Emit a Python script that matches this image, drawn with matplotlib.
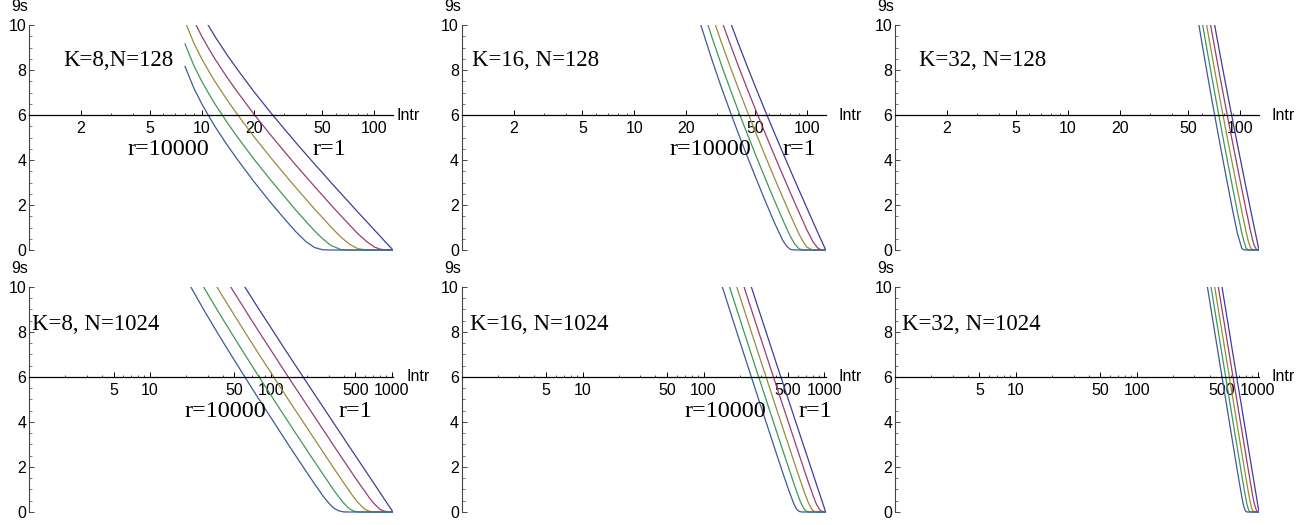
import matplotlib
matplotlib.use("Agg")
import matplotlib.pyplot as plt
import matplotlib.ticker as ticker
from matplotlib.transforms import blended_transform_factory

plt.rcParams['font.family'] = ['Liberation Sans', 'DejaVu Sans']

# curve colours for r = 1, 10, 100, 1000, 10000
colors = ['#3f3d99', '#993d71', '#998b3d', '#3d9956', '#3d5a99']

# ---- K=8, N=128 ----
intr_8_128 = [8, 9, 10, 11, 12, 14, 16, 20, 25, 30, 35, 40, 45, 50, 56, 64, 72, 80, 90, 100, 108, 115, 120, 128]
nines_8_128 = [
    [12.16, 11.20, 10.50, 9.94, 9.46, 8.68, 8.05, 7.05, 6.12, 5.39, 4.78, 4.27, 3.82, 3.43, 3.00, 2.51, 2.08, 1.69, 1.27, 0.885, 0.61, 0.38, 0.23, 0],
    [11.16, 10.20, 9.50, 8.94, 8.46, 7.68, 7.05, 6.05, 5.12, 4.39, 3.78, 3.27, 2.82, 2.43, 2.00, 1.52, 1.10, 0.73, 0.38, 0.13, 0.038, 0.007, 0.001, 0],
    [10.16, 9.20, 8.50, 7.94, 7.46, 6.68, 6.05, 5.05, 4.12, 3.39, 2.78, 2.27, 1.82, 1.44, 1.02, 0.57, 0.25, 0.06, 0.002, 0, 0, 0, 0, 0],
    [9.16, 8.20, 7.50, 6.94, 6.46, 5.68, 5.05, 4.05, 3.12, 2.39, 1.78, 1.28, 0.85, 0.51, 0.20, 0.02, 0, 0, 0, 0, 0, 0, 0, 0],
    [8.16, 7.20, 6.50, 5.94, 5.46, 4.68, 4.05, 3.05, 2.12, 1.40, 0.82, 0.38, 0.11, 0.01, 0, 0, 0, 0, 0, 0, 0, 0, 0, 0],
]

# ---- K=16, N=128 ----
intr_16_128 = [24, 28, 32, 36, 40, 45, 50, 56, 64, 72, 76, 80, 85, 90, 95, 100, 108, 115, 120, 124, 128]
nines_16_128 = [
    [14.10, 12.49, 11.19, 10.11, 9.17, 8.16, 7.28, 6.35, 5.28, 4.36, 3.94, 3.54, 3.07, 2.64, 2.23, 1.84, 1.26, 0.79, 0.48, 0.24, 0],
    [13.10, 11.49, 10.19, 9.11, 8.17, 7.16, 6.28, 5.35, 4.28, 3.36, 2.94, 2.54, 2.08, 1.65, 1.25, 0.87, 0.37, 0.095, 0.013, 0.001, 0],
    [12.10, 10.49, 9.19, 8.11, 7.17, 6.16, 5.28, 4.35, 3.28, 2.36, 1.95, 1.55, 1.10, 0.69, 0.36, 0.115, 0.002, 0, 0, 0, 0],
    [11.10, 9.49, 8.19, 7.11, 6.17, 5.16, 4.28, 3.35, 2.28, 1.37, 0.97, 0.60, 0.25, 0.045, 0.005, 0, 0, 0, 0, 0, 0],
    [10.10, 8.49, 7.19, 6.11, 5.17, 4.16, 3.28, 2.35, 1.29, 0.45, 0.17, 0.026, 0.001, 0, 0, 0, 0, 0, 0, 0, 0],
]

# ---- K=32, N=128 ----
intr_32_128 = [56, 60, 64, 68, 72, 76, 80, 85, 90, 96, 102, 105, 108, 111, 114, 117, 120, 124, 128]
nines_32_128 = [
    [14.53, 13.15, 11.91, 10.77, 9.72, 8.74, 7.83, 6.77, 5.79, 4.70, 3.69, 3.21, 2.74, 2.30, 1.86, 1.44, 1.03, 0.51, 0],
    [13.53, 12.15, 10.91, 9.77, 8.72, 7.74, 6.83, 5.77, 4.79, 3.70, 2.69, 2.21, 1.75, 1.32, 0.89, 0.52, 0.21, 0.02, 0],
    [12.53, 11.15, 9.91, 8.77, 7.72, 6.74, 5.83, 4.77, 3.79, 2.70, 1.69, 1.23, 0.78, 0.40, 0.125, 0.015, 0, 0, 0],
    [11.53, 10.15, 8.91, 7.77, 6.72, 5.74, 4.83, 3.77, 2.79, 1.70, 0.73, 0.36, 0.075, 0.004, 0, 0, 0, 0, 0],
    [10.53, 9.15, 7.91, 6.77, 5.72, 4.74, 3.83, 2.77, 1.79, 0.74, 0.06, 0.004, 0, 0, 0, 0, 0, 0, 0],
]

# ---- K=8, N=1024 ----
intr_8_1024 = [20, 24, 28, 34, 40, 50, 60, 70, 85, 100, 120, 150, 180, 220, 270, 300, 330, 365, 400, 440, 480, 520, 560, 600, 650, 700, 750, 800, 850, 950, 1024]
nines_8_1024 = [
    [14.37, 13.60, 12.97, 12.21, 11.58, 10.74, 10.06, 9.49, 8.78, 8.20, 7.54, 6.74, 6.10, 5.39, 4.67, 4.30, 3.96, 3.61, 3.29, 2.95, 2.65, 2.37, 2.11, 1.87, 1.59, 1.33, 1.09, 0.86, 0.65, 0.26, 0],
    [13.37, 12.60, 11.97, 11.21, 10.58, 9.74, 9.06, 8.49, 7.78, 7.20, 6.54, 5.74, 5.10, 4.39, 3.67, 3.30, 2.96, 2.61, 2.29, 1.96, 1.66, 1.39, 1.13, 0.92, 0.645, 0.42, 0.26, 0.12, 0.048, 0.002, 0],
    [12.37, 11.60, 10.97, 10.21, 9.58, 8.74, 8.06, 7.49, 6.78, 6.20, 5.54, 4.74, 4.10, 3.39, 2.67, 2.30, 1.96, 1.62, 1.30, 0.98, 0.69, 0.45, 0.27, 0.12, 0.035, 0.005, 0, 0, 0, 0, 0],
    [11.37, 10.60, 9.97, 9.21, 8.58, 7.74, 7.06, 6.49, 5.78, 5.20, 4.54, 3.74, 3.10, 2.39, 1.68, 1.32, 0.98, 0.67, 0.40, 0.17, 0.048, 0.006, 0, 0, 0, 0, 0, 0, 0, 0, 0],
    [10.37, 9.60, 8.97, 8.21, 7.58, 6.74, 6.06, 5.49, 4.78, 4.20, 3.54, 2.74, 2.10, 1.40, 0.71, 0.41, 0.18, 0.05, 0.003, 0, 0, 0, 0, 0, 0, 0, 0, 0, 0, 0, 0],
]

# ---- K=16, N=1024 ----
intr_16_1024 = [140, 160, 180, 200, 225, 250, 280, 320, 360, 400, 450, 500, 530, 560, 590, 620, 650, 680, 710, 740, 770, 800, 830, 860, 920, 970, 1024]
nines_16_1024 = [
    [14.16, 13.19, 12.33, 11.57, 10.72, 9.96, 9.15, 8.20, 7.36, 6.61, 5.78, 5.04, 4.63, 4.24, 3.87, 3.52, 3.19, 2.87, 2.57, 2.28, 2.00, 1.73, 1.47, 1.22, 0.75, 0.38, 0],
    [13.16, 12.19, 11.33, 10.57, 9.72, 8.96, 8.15, 7.20, 6.36, 5.61, 4.78, 4.04, 3.63, 3.24, 2.87, 2.52, 2.19, 1.87, 1.58, 1.29, 1.03, 0.77, 0.54, 0.34, 0.08, 0.007, 0],
    [12.16, 11.19, 10.33, 9.57, 8.72, 7.96, 7.15, 6.20, 5.36, 4.61, 3.78, 3.04, 2.63, 2.24, 1.87, 1.53, 1.21, 0.90, 0.63, 0.39, 0.21, 0.072, 0.015, 0.001, 0, 0, 0],
    [11.16, 10.19, 9.33, 8.57, 7.72, 6.96, 6.15, 5.20, 4.36, 3.61, 2.78, 2.04, 1.64, 1.25, 0.90, 0.58, 0.32, 0.13, 0.03, 0.002, 0, 0, 0, 0, 0, 0, 0],
    [10.16, 9.19, 8.33, 7.57, 6.72, 5.96, 5.15, 4.20, 3.36, 2.61, 1.78, 1.06, 0.69, 0.35, 0.12, 0.022, 0.001, 0, 0, 0, 0, 0, 0, 0, 0, 0, 0],
]

# ---- K=32, N=1024 ----
intr_32_1024 = [380, 400, 430, 460, 490, 520, 550, 580, 620, 660, 700, 740, 760, 780, 800, 820, 840, 860, 880, 900, 920, 940, 980, 1024]
nines_32_1024 = [
    [14.15, 13.40, 12.36, 11.39, 10.48, 9.63, 8.83, 8.07, 7.11, 6.22, 5.39, 4.60, 4.22, 3.85, 3.49, 3.14, 2.80, 2.47, 2.14, 1.82, 1.51, 1.21, 0.62, 0],
    [13.15, 12.40, 11.36, 10.39, 9.48, 8.63, 7.83, 7.07, 6.11, 5.22, 4.39, 3.60, 3.22, 2.85, 2.49, 2.14, 1.81, 1.48, 1.16, 0.85, 0.57, 0.335, 0.04, 0],
    [12.15, 11.40, 10.36, 9.39, 8.48, 7.63, 6.83, 6.07, 5.11, 4.22, 3.39, 2.60, 2.22, 1.85, 1.50, 1.16, 0.84, 0.54, 0.29, 0.11, 0.025, 0.001, 0, 0],
    [11.15, 10.40, 9.36, 8.39, 7.48, 6.63, 5.83, 5.07, 4.11, 3.22, 2.39, 1.61, 1.24, 0.88, 0.55, 0.29, 0.10, 0.012, 0, 0, 0, 0, 0, 0],
    [10.15, 9.40, 8.36, 7.39, 6.48, 5.63, 4.83, 4.07, 3.11, 2.22, 1.40, 0.65, 0.34, 0.12, 0.02, 0, 0, 0, 0, 0, 0, 0, 0, 0],
]

ticks_128 = [2, 5, 10, 20, 50, 100]
ticks_1024 = [5, 10, 50, 100, 500, 1000]

panels = [
    # intr, nines, N, ticks, title, title pos, r labels pos, Intr label x
    (intr_8_128, nines_8_128, 128, ticks_128, 'K=8,N=128', (1.57, 8.44), (3.74, 44.0), 1.010),
    (intr_16_128, nines_16_128, 128, ticks_128, 'K=16, N=128', (1.14, 8.44), (16.0, 72.4), 1.034),
    (intr_32_128, nines_32_128, 128, ticks_128, 'K=32, N=128', (1.38, 8.44), None, 1.035),
    (intr_8_1024, nines_8_1024, 1024, ticks_1024, 'K=8, N=1024', (1.05, 8.33), (19.5, 360), 1.036),
    (intr_16_1024, nines_16_1024, 1024, ticks_1024, 'K=16, N=1024', (1.17, 8.33), (70.3, 605), 1.034),
    (intr_32_1024, nines_32_1024, 1024, ticks_1024, 'K=32, N=1024', (1.14, 8.33), None, 1.035),
]

fig = plt.figure(figsize=(13.09, 5.25), dpi=100)
lefts = [0.02215, 0.3527, 0.6837]
bottoms = [0.5195, 0.02048]
w, h = 0.27807, 0.43286

for i, (intr, nines, N, xt, title, tpos, rpos, lx) in enumerate(panels):
    ax = fig.add_axes([lefts[i % 3], bottoms[i // 3], w, h])
    ax.set_xscale('log')
    ax.set_xlim(1, N)
    ax.set_ylim(-0.1, 10)
    for ys, c in zip(nines, colors):
        ax.plot(intr, ys, color=c, lw=0.9)

    for s in ['top', 'right']:
        ax.spines[s].set_visible(False)
    ax.spines['bottom'].set_position(('data', 6))
    ax.spines['left'].set_bounds(0, 10)
    ax.spines['bottom'].set_linewidth(0.9)
    ax.spines['left'].set_linewidth(0.8)
    ax.spines['left'].set_color('#444444')

    ax.set_xticks(xt)
    ax.set_xticklabels([str(t) for t in xt])
    ax.xaxis.set_minor_locator(ticker.LogLocator(base=10, subs=range(2, 10), numticks=20))
    ax.xaxis.set_minor_formatter(ticker.NullFormatter())
    ax.tick_params(axis='x', which='major', direction='in', length=3.5, width=0.7, labelsize=11.5, pad=4)
    ax.tick_params(axis='x', which='minor', direction='in', length=1.8, width=0.5)

    ax.set_yticks([0, 2, 4, 6, 8, 10])
    ax.yaxis.set_minor_locator(ticker.MultipleLocator(0.5))
    ax.tick_params(axis='y', which='major', direction='in', length=3.5, width=0.7, labelsize=11.5, pad=2,
                   color='#444444')
    ax.tick_params(axis='y', which='minor', direction='in', length=1.8, width=0.5, color='#444444')

    ax.text(-0.025, 1.08, '9s', transform=ax.transAxes, ha='center', va='center', fontsize=11.5)
    trans = blended_transform_factory(ax.transAxes, ax.transData)
    ax.text(lx, 6, 'Intr', transform=trans, ha='left', va='center', fontsize=11.5)

    ax.text(tpos[0], tpos[1], title, ha='left', va='center', fontsize=16.5, family='Liberation Serif')
    if rpos is not None:
        ax.text(rpos[0], 4.45, 'r=10000', ha='left', va='center', fontsize=17.5, family='Liberation Serif')
        ax.text(rpos[1], 4.45, 'r=1', ha='left', va='center', fontsize=17.5, family='Liberation Serif')

fig.savefig('out.png', dpi=100)
